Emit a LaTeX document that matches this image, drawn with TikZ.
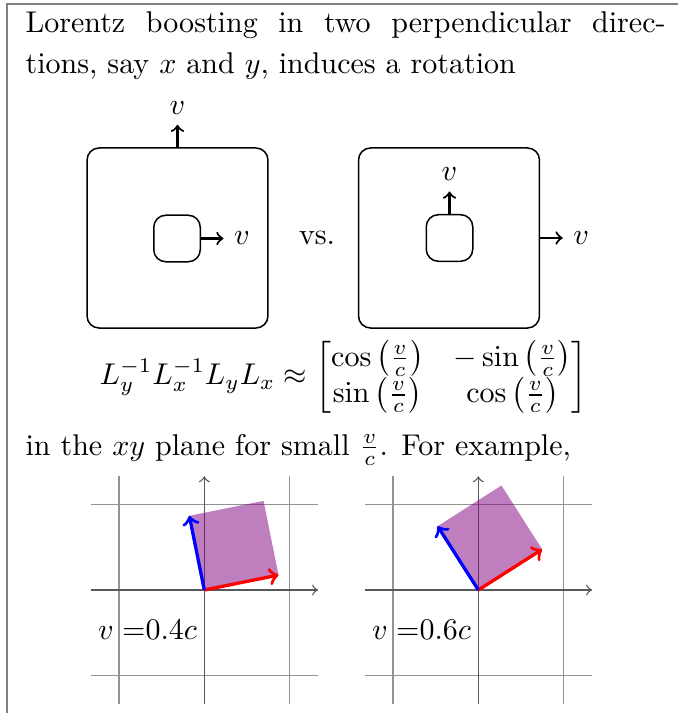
\documentclass[tikz,border=0pt]{standalone}
\usepackage{amsmath}
\usepackage{tikz}
\usetikzlibrary{positioning}
\tikzset{bb/.style={draw,rounded corners=4pt,minimum width=60.3pt,minimum height=60pt,line width=.5pt},
 sb/.style={draw,rounded corners=4pt,minimum size=15.5pt,line width=.5pt},
 ar/.style={->,line width=.7pt},
 gl/.style={gray!85,line width=.5pt},ax/.style={->,black!65,line width=.45pt},
 vx/.style={->,red,line width=1.1pt},vy/.style={->,blue,line width=1.1pt},
 sq/.style={fill=violet,fill opacity=.5},tl/.style={anchor=base west,inner sep=0pt}}

\begin{document}
\begin{tikzpicture}[x=.3333pt,y=-.3333pt]
\useasboundingbox (0,0) rectangle (678,713);
\draw[gray,line width=.7pt] (678,4) -- (7,4) -- (7,713);
% text lines
\node[tl] (l1) at (25,33) {\makebox[213.3pt][s]{Lorentz boosting in two perpendicular direc-}};
\node[tl] (l2) at (25,74) {tions, say $x$ and $y$, induces a rotation};
% boost pictures
\node[bb] (ba) at (177.5,238) {};
\node[sb] (sa) at (177,238.5) {};
\node[above=7.5pt of ba.north] (va1) {$v$};
\node[right=7.5pt of sa.east] (va2) {$v$};
\draw[ar] (ba.north) -- (va1);\draw[ar] (sa.east) -- (va2);
\node (vs) at (317,238) {vs.};
\node[bb] (bb) at (449,238) {};
\node[sb] (sb) at (449.5,238) {};
\node[above=7.5pt of sb.north] (vb1) {$v$};
\node[right=7.5pt of bb.east] (vb2) {$v$};
\draw[ar] (sb.north) -- (vb1);\draw[ar] (bb.east) -- (vb2);
% commutator
\node (eq) at (343.5,377) {$\displaystyle L_y^{-1}L_x^{-1}L_yL_x\approx
 \begin{bmatrix}\cos\left(\frac{v}{c}\right) & -\sin\left(\frac{v}{c}\right)\\
 \sin\left(\frac{v}{c}\right) & \cos\left(\frac{v}{c}\right)\end{bmatrix}$};
\node[tl] (l3) at (25,455) {in the $xy$ plane for small $\frac{v}{c}$. For example,};
% rotated squares
\foreach \v/\a/\ox/\n in {0.4/11.4/204.3/a,0.6/32.5/478.3/b}{
\begin{scope}[shift={(\ox,590)},x=25.23pt,y=25.23pt]
\draw[gl] (-1.5,-1.5) grid (1.5,1.5);
\draw[ax] (-1.5,0) -- (1.5,0);\draw[ax] (0,-1.5) -- (0,1.5);
\coordinate (o\n) at (0,0);
\coordinate (p\n) at (\a:1);
\coordinate (q\n) at (\a+90:1);
\coordinate (r\n) at ({cos(\a)-sin(\a)},{sin(\a)+cos(\a)});
\fill[sq] (o\n) -- (p\n) -- (r\n) -- (q\n) -- cycle;
\draw[vx] (o\n) -- (p\n);\draw[vy] (o\n) -- (q\n);
\node (lab\n) at (-.75,-.53) {$v=$\v$c$};
\end{scope}}
\end{tikzpicture}
\end{document}
